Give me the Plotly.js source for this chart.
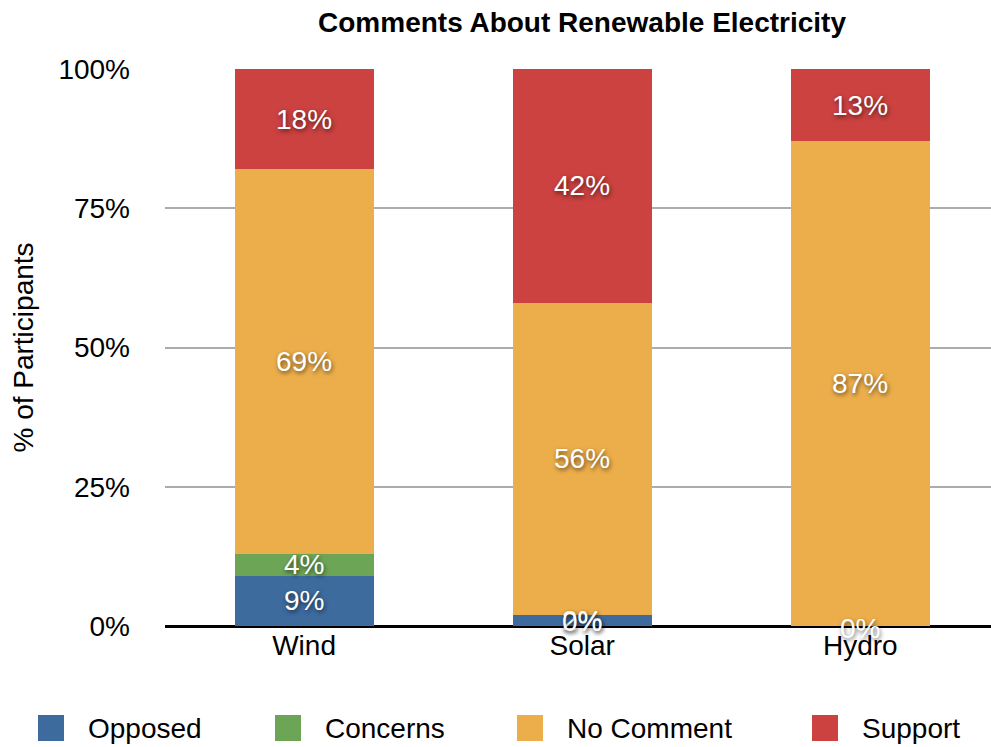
<!DOCTYPE html>
<html>
<head>
<meta charset="utf-8">
<script src="https://cdn.plot.ly/plotly-3.0.1.min.js"></script>
<style>body{margin:0;padding:0;background:#fff}#chart{width:991px;height:747px}</style>
</head>
<body>
<div id="chart"></div>
<script>
const categories = ["Wind", "Solar", "Hydro"];
const seriesNames = ["Opposed", "Concerns", "No Comment", "Support"];
const opposed = [9, 2, 0];
const concerns = [4, 0, 0];
const noComment = [69, 56, 87];
const support = [18, 42, 13];
const yTickVals = [0, 25, 50, 75, 100];
const yTickText = ["0%", "25%", "50%", "75%", "100%"];

const colors = ["#3d6b9e", "#6da557", "#ecae4b", "#cb4240"];
const allSeries = [opposed, concerns, noComment, support];
const FONT = "Liberation Sans, Arial, Helvetica, sans-serif";
const W = 991, H = 747;
const M = {l: 165, r: 0, t: 69, b: 121};
const PW = W - M.l - M.r, PH = H - M.t - M.b;
const px2x = px => (px - M.l) / PW;
const px2y = py => (H - M.b - py) / PH;

const traces = allSeries.map((vals, i) => ({
  type: "bar",
  name: seriesNames[i],
  x: categories,
  y: vals,
  marker: {color: colors[i], line: {width: 0}},
  width: 0.5,
  showlegend: false,
  hoverinfo: "skip"
}));

const labelFont = {family: FONT, size: 28, color: "#ffffff", shadow: "1px 2px 4px rgba(0,0,0,0.6)"};
const annotations = [];
categories.forEach((c, ci) => {
  let cum = 0;
  allSeries.forEach((vals, si) => {
    const v = vals[ci];
    const mid = cum + v / 2;
    cum += v;
    // zero segments are labelled only where the original shows a label
    if (v === 0 && !(si === 1 && c === "Solar") && !(si === 0 && c === "Hydro")) return;
    annotations.push({
      x: c, y: mid, xref: "x", yref: "y",
      text: v + "%", showarrow: false,
      font: labelFont,
      yshift: (v === 0 && c === "Solar") ? -7 : (v === 0 ? -2 : 0)
    });
  });
});

// manual legend (large square swatches like the original)
const legendX = [38, 275, 517, 812];
const shapes = [];
seriesNames.forEach((n, i) => {
  shapes.push({
    type: "rect", xref: "paper", yref: "paper",
    x0: px2x(legendX[i]), x1: px2x(legendX[i] + 26),
    y0: px2y(741), y1: px2y(715),
    fillcolor: colors[i], line: {width: 0}
  });
  annotations.push({
    xref: "paper", yref: "paper",
    x: px2x(legendX[i] + 48), y: px2y(728),
    xanchor: "left", yanchor: "middle",
    text: n, showarrow: false,
    font: {family: FONT, size: 28, color: "#000"}
  });
});

const layout = {
  width: W, height: H,
  margin: M,
  paper_bgcolor: "#ffffff", plot_bgcolor: "#ffffff",
  barmode: "stack",
  title: {text: "<b>Comments About Renewable Electricity</b>", font: {family: FONT, size: 28, color: "#000"},
          xref: "container", x: 582 / W, xanchor: "center", y: 1 - 22 / H, yanchor: "middle"},
  xaxis: {
    type: "category", range: [-0.5, 2.47],
    tickfont: {family: FONT, size: 28, color: "#000"},
    showgrid: false, showline: false, ticks: "", fixedrange: true,
    automargin: false
  },
  yaxis: {
    range: [0, 100], tickvals: yTickVals, ticktext: yTickText,
    tickfont: {family: FONT, size: 28, color: "#000"},
    showgrid: true, gridcolor: "#acacac", gridwidth: 2,
    zeroline: true, zerolinecolor: "#000", zerolinewidth: 3,
    ticks: "", ticklabelstandoff: 34,
    title: {text: "% of Participants", font: {family: FONT, size: 28, color: "#000"}, standoff: 16},
    fixedrange: true, automargin: false
  },
  showlegend: false,
  shapes: shapes,
  annotations: annotations
};

Plotly.newPlot("chart", traces, layout, {displayModeBar: false, staticPlot: true});
</script>
</body>
</html>
